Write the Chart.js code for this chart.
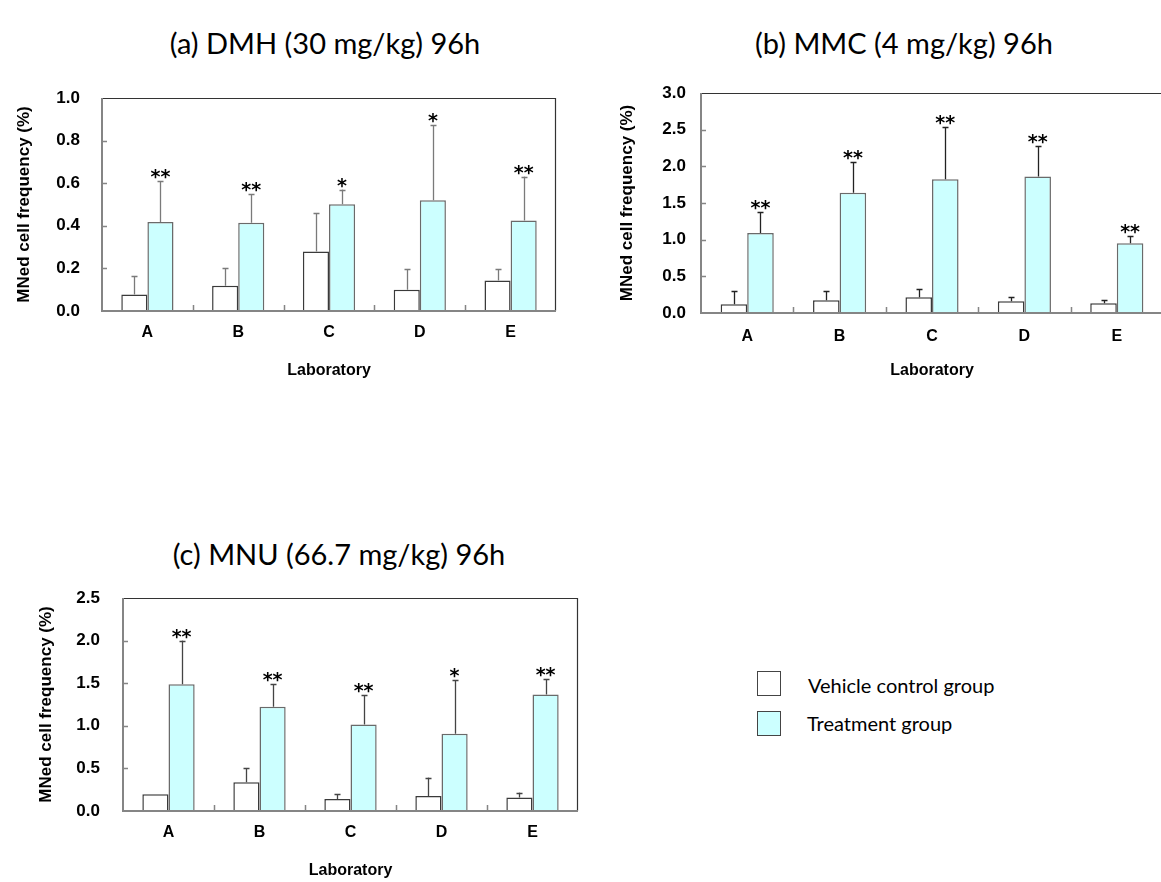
<!DOCTYPE html>
<html>
<head>
<meta charset="utf-8">
<script src="https://cdn.jsdelivr.net/npm/chart.js@4.4.1/dist/chart.umd.min.js"></script>
<style>
html, body { margin:0; padding:0; overflow:hidden; background:#fff; width:1161px; height:882px; }
.panel { position:absolute; }
.ptitle { position:absolute; font-family: Lato, "Open Sans", sans-serif; font-size:29px; color:#000; white-space:nowrap; transform:translate(-50%,-50%); }
.legend { position:absolute; font-family: Lato, "Open Sans", sans-serif; font-size:20px; color:#000; }
.lbox { position:absolute; width:22px; height:23px; border:1.5px solid #444; }
.ltxt { position:absolute; transform:translateY(-50%); white-space:nowrap; }
</style>
</head>
<body>
<div class="ptitle" style="left:325px; top:42px;">(a) DMH (30 mg/kg) 96h</div>
<div class="ptitle" style="left:904px; top:42px;">(b) MMC (4 mg/kg) 96h</div>
<div class="ptitle" style="left:339px; top:553px;">(c) MNU (66.7 mg/kg) 96h</div>

<div class="panel" style="left:0px; top:58px;"><canvas id="cA" width="650" height="332"></canvas></div>
<div class="panel" style="left:600px; top:53px;"><canvas id="cB" width="580" height="337"></canvas></div>
<div class="panel" style="left:0px; top:558px;"><canvas id="cC" width="680" height="324"></canvas></div>

<div class="legend" style="left:0; top:0;">
  <div class="lbox" style="left:757px; top:671px; background:#ffffff;"></div>
  <div class="ltxt" style="left:808px; top:685px;" id="legVeh"></div>
  <div class="lbox" style="left:757px; top:711px; background:#ccffff;"></div>
  <div class="ltxt" style="left:807px; top:723px;" id="legTrt"></div>
</div>

<script>
// ---------- DATA ----------
const categories = ['A', 'B', 'C', 'D', 'E'];
const seriesNames = ['Vehicle control group', 'Treatment group'];
const xTitle = 'Laboratory';
const yTitle = 'MNed cell frequency (%)';

// (a) DMH (30 mg/kg) 96h
const dmhControl   = [0.078, 0.119, 0.279, 0.100, 0.143];
const dmhControlSD = [0.087, 0.084, 0.181, 0.098, 0.052];
const dmhTreat     = [0.418, 0.414, 0.501, 0.520, 0.425];
const dmhTreatSD   = [0.194, 0.137, 0.069, 0.353, 0.206];
const dmhSig       = ['**', '**', '*', '*', '**'];
const dmhTicks     = ['0.0', '0.2', '0.4', '0.6', '0.8', '1.0'];

// (b) MMC (4 mg/kg) 96h
const mmcControl   = [0.118, 0.173, 0.214, 0.159, 0.132];
const mmcControlSD = [0.178, 0.132, 0.109, 0.059, 0.050];
const mmcTreat     = [1.092, 1.639, 1.825, 1.862, 0.951];
const mmcTreatSD   = [0.283, 0.418, 0.715, 0.414, 0.100];
const mmcSig       = ['**', '**', '**', '**', '**'];
const mmcTicks     = ['0.0', '0.5', '1.0', '1.5', '2.0', '2.5', '3.0'];

// (c) MNU (66.7 mg/kg) 96h
const mnuControl   = [0.196, 0.338, 0.141, 0.177, 0.157];
const mnuControlSD = [0.000, 0.168, 0.055, 0.215, 0.059];
const mnuTreat     = [1.487, 1.224, 1.016, 0.907, 1.366];
const mnuTreatSD   = [0.513, 0.271, 0.342, 0.631, 0.180];
const mnuSig       = ['**', '**', '**', '*', '**'];
const mnuTicks     = ['0.0', '0.5', '1.0', '1.5', '2.0', '2.5'];

document.getElementById('legVeh').textContent = seriesNames[0];
document.getElementById('legTrt').textContent = seriesNames[1];

Chart.defaults.font.family = '"Liberation Sans", Arial, sans-serif';
Chart.defaults.color = '#000';

// ---------- PLUGINS ----------
const framePlugin = {
  id: 'frame',
  afterDatasetsDraw(chart) {
    const {ctx, chartArea: a} = chart;
    const xs = chart.scales.x, ys = chart.scales.y;
    ctx.save();
    ctx.strokeStyle = '#333'; ctx.lineWidth = 1.2;
    ctx.beginPath();
    ctx.moveTo(a.left, a.top + 0.5); ctx.lineTo(a.right - 0.5, a.top + 0.5); ctx.lineTo(a.right - 0.5, a.bottom);
    ctx.stroke();
    ctx.strokeStyle = '#858585'; ctx.lineWidth = 2;
    ctx.beginPath();
    ctx.moveTo(a.left, a.top); ctx.lineTo(a.left, a.bottom); ctx.lineTo(a.right, a.bottom);
    ctx.stroke();
    ctx.lineWidth = 1.5;
    ctx.beginPath();
    ys.ticks.forEach((t, i) => {
      if (i === 0 || i === ys.ticks.length - 1) return;
      const py = Math.round(ys.getPixelForValue(t.value)) + 0.5;
      ctx.moveTo(a.left, py); ctx.lineTo(a.left + 5, py);
    });
    for (let i = 1; i < chart.data.labels.length; i++) {
      const px = Math.round((xs.getPixelForValue(i - 1) + xs.getPixelForValue(i)) / 2) + 0.5;
      ctx.moveTo(px, a.bottom); ctx.lineTo(px, a.bottom - 6);
    }
    ctx.stroke();
    ctx.restore();
  }
};

const errPlugin = {
  id: 'errbars',
  afterDatasetsDraw(chart) {
    const {ctx} = chart;
    const ys = chart.scales.y;
    const cfg = chart.options.plugins.errbars || {};
    ctx.save();
    chart.data.datasets.forEach((ds, di) => {
      const meta = chart.getDatasetMeta(di);
      meta.data.forEach((bar, i) => {
        const mean = ds.data[i];
        const sd = ds.sd[i];
        const yTop = ys.getPixelForValue(mean + sd);
        const yMean = ys.getPixelForValue(mean);
        const x = Math.round(bar.x) + 0.5;
        if (sd > 0) {
          ctx.strokeStyle = cfg.color || '#555';
          ctx.lineWidth = 1.3;
          ctx.beginPath();
          ctx.moveTo(x, yMean); ctx.lineTo(x, yTop);
          ctx.moveTo(x - 3, Math.round(yTop) + 0.5); ctx.lineTo(x + 3, Math.round(yTop) + 0.5);
          ctx.stroke();
        }
        if (ds.sig) {
          ctx.fillStyle = '#000';
          ctx.font = 'bold 19px "DejaVu Sans", sans-serif';
          ctx.textAlign = 'center';
          ctx.textBaseline = 'alphabetic';
          ctx.fillText(ds.sig[i], bar.x, yTop + 2);
        }
      });
    });
    ctx.restore();
  }
};

function makeChart(id, geo, ctrl, ctrlSD, trt, trtSD, sig, ticks, maxV, stepV, errColor) {
  new Chart(document.getElementById(id), {
    type: 'bar',
    data: {
      labels: categories,
      datasets: [
        { label: seriesNames[0], data: ctrl, sd: ctrlSD,
          backgroundColor: '#ffffff', borderColor: '#3a3a3a', borderWidth: 1.5 },
        { label: seriesNames[1], data: trt, sd: trtSD, sig: sig,
          backgroundColor: '#ccffff', borderColor: '#6a6a6a', borderWidth: 1.5 }
      ]
    },
    options: {
      responsive: false,
      animation: false,
      devicePixelRatio: 1,
      events: [],
      layout: { padding: { top: 40, right: geo.padRight, left: 0, bottom: 0 } },
      datasets: { bar: { categoryPercentage: 0.575, barPercentage: 1.0 } },
      plugins: {
        legend: { display: false },
        tooltip: { enabled: false },
        errbars: { color: errColor }
      },
      scales: {
        x: {
          grid: { display: false, drawTicks: false },
          border: { display: false },
          ticks: { padding: geo.xTickPad, font: { size: 16, weight: 'bold' }, color: '#000' },
          title: { display: true, text: xTitle, font: { size: 16, weight: 'bold' },
                   padding: { top: 0, bottom: geo.xTitlePad }, color: '#000' },
          afterFit(s) { s.height = geo.xAxisH; }
        },
        y: {
          min: 0, max: maxV,
          grid: { display: false, drawTicks: false },
          border: { display: false },
          ticks: { stepSize: stepV, padding: geo.yTickPad, font: { size: 17, weight: 'bold' }, color: '#000',
                   callback: (v, i) => ticks[i] },
          title: { display: true, text: yTitle, font: { size: 17, weight: 'bold' },
                   padding: { top: geo.yTitlePad, bottom: 0 }, color: '#000' },
          afterFit(s) { s.width = geo.yAxisW; }
        }
      }
    },
    plugins: [framePlugin, errPlugin]
  });
}

makeChart('cA', { padRight: 94, xAxisH: 79, yAxisW: 102, xTickPad: 12, xTitlePad: 10, yTickPad: 22, yTitlePad: 14 },
  dmhControl, dmhControlSD, dmhTreat, dmhTreatSD, dmhSig, dmhTicks, 1.0, 0.2, '#7a7a7a');
makeChart('cB', { padRight: 17, xAxisH: 77, yAxisW: 101, xTickPad: 14, xTitlePad: 10, yTickPad: 15, yTitlePad: 17 },
  mmcControl, mmcControlSD, mmcTreat, mmcTreatSD, mmcSig, mmcTicks, 3.0, 0.5, '#222');
makeChart('cC', { padRight: 102, xAxisH: 71, yAxisW: 123, xTickPad: 12, xTitlePad: 2, yTickPad: 23, yTitlePad: 36 },
  mnuControl, mnuControlSD, mnuTreat, mnuTreatSD, mnuSig, mnuTicks, 2.5, 0.5, '#444');
</script>
</body>
</html>
